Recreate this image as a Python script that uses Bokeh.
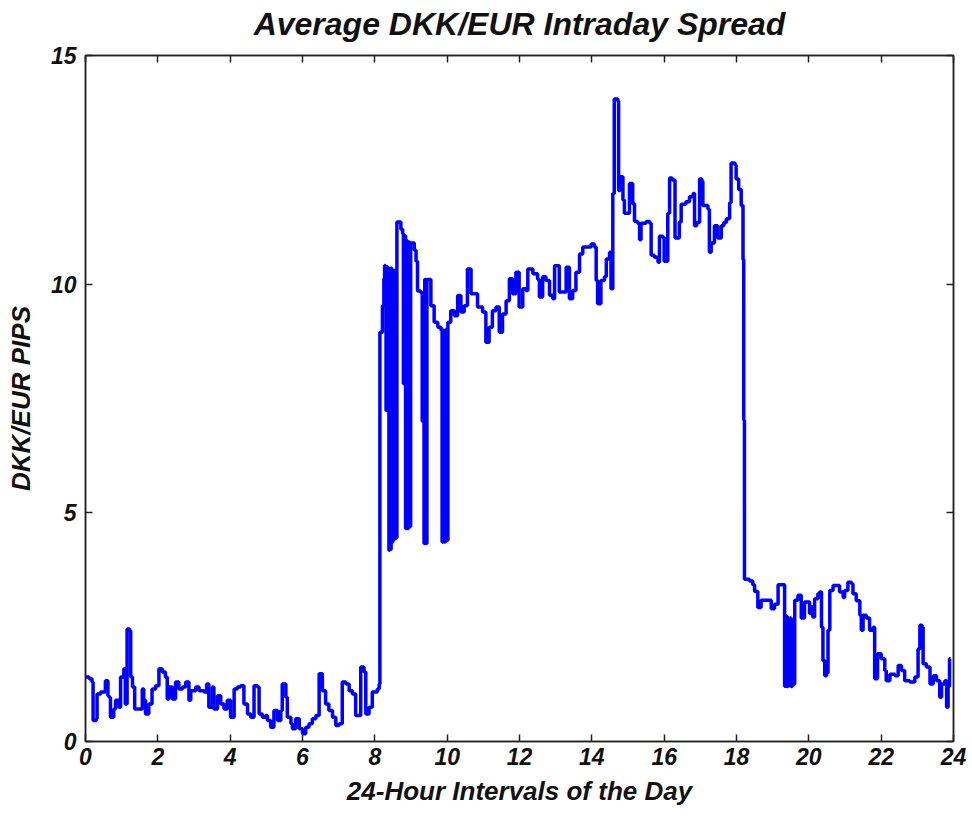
from bokeh.plotting import figure
from bokeh.models import Range1d, LinearAxis, FixedTicker
from bokeh.embed import file_html
from bokeh.resources import INLINE

title_text = "Average DKK/EUR Intraday Spread"
x_label = "24-Hour Intervals of the Day"
y_label = "DKK/EUR PIPS"
x_ticks = [0, 2, 4, 6, 8, 10, 12, 14, 16, 18, 20, 22, 24]
y_ticks = [0, 5, 10, 15]

hours = [
    0.0, 0.1, 0.18, 0.21, 0.3, 0.32, 0.42, 0.55, 0.62, 0.65, 0.69, 0.78, 0.83, 0.92, 0.97, 1.06, 1.1, 1.15, 1.22, 1.25,
    1.3, 1.36, 1.52, 1.57, 1.61, 1.66, 1.75, 1.84, 1.94, 2.03, 2.12, 2.21, 2.26, 2.31, 2.4, 2.49, 2.58, 2.68, 2.77, 2.86,
    2.91, 3.05, 3.14, 3.28, 3.35, 3.41, 3.51, 3.55, 3.65, 3.74, 3.83, 3.92, 4.01, 4.11, 4.2, 4.29, 4.38, 4.48, 4.57, 4.66,
    4.75, 4.8, 4.89, 4.98, 5.03, 5.12, 5.21, 5.31, 5.4, 5.44, 5.54, 5.58, 5.68, 5.72, 5.81, 5.91, 6.0, 6.09, 6.18, 6.27,
    6.37, 6.46, 6.55, 6.64, 6.73, 6.83, 6.92, 7.01, 7.1, 7.2, 7.29, 7.38, 7.47, 7.57, 7.61, 7.7, 7.75, 7.84, 7.93, 8.07,
    8.12, 8.14, 8.2, 8.21, 8.25, 8.27, 8.29, 8.31, 8.33, 8.35, 8.37, 8.39, 8.41, 8.43, 8.45, 8.47, 8.49, 8.51, 8.53, 8.55,
    8.57, 8.59, 8.61, 8.67, 8.72, 8.77, 8.79, 8.81, 8.85, 8.88, 8.9, 8.93, 8.96, 8.99, 9.09, 9.14, 9.18, 9.27, 9.31, 9.33,
    9.36, 9.38, 9.41, 9.44, 9.46, 9.55, 9.64, 9.74, 9.83, 9.86, 9.89, 9.92, 9.95, 9.97, 10.02, 10.1, 10.2, 10.29, 10.38, 10.47,
    10.56, 10.66, 10.75, 10.84, 10.98, 11.07, 11.16, 11.25, 11.35, 11.44, 11.53, 11.63, 11.72, 11.81, 11.9, 11.99, 12.09, 12.18, 12.23, 12.37,
    12.5, 12.55, 12.64, 12.73, 12.83, 12.92, 12.97, 13.06, 13.1, 13.2, 13.29, 13.38, 13.47, 13.56, 13.66, 13.75, 13.89, 13.98, 14.07, 14.12,
    14.16, 14.25, 14.35, 14.4, 14.49, 14.53, 14.58, 14.62, 14.72, 14.74, 14.78, 14.86, 14.9, 14.99, 15.04, 15.13, 15.18, 15.27, 15.32, 15.36,
    15.5, 15.6, 15.64, 15.73, 15.83, 15.87, 15.96, 16.0, 16.1, 16.15, 16.22, 16.3, 16.42, 16.47, 16.6, 16.7, 16.8, 16.84, 16.9, 16.98,
    17.04, 17.07, 17.21, 17.25, 17.3, 17.39, 17.48, 17.58, 17.65, 17.72, 17.81, 17.85, 17.96, 17.99, 18.06, 18.13, 18.18, 18.2, 18.22, 18.3,
    18.36, 18.45, 18.5, 18.59, 18.68, 18.87, 18.96, 19.05, 19.15, 19.29, 19.33, 19.36, 19.39, 19.42, 19.45, 19.48, 19.51, 19.54, 19.57, 19.61,
    19.7, 19.79, 19.88, 19.97, 20.02, 20.07, 20.11, 20.16, 20.25, 20.3, 20.35, 20.39, 20.44, 20.49, 20.53, 20.58, 20.67, 20.81, 20.85, 20.95,
    20.99, 21.08, 21.18, 21.22, 21.31, 21.41, 21.45, 21.5, 21.59, 21.68, 21.78, 21.82, 21.9, 22.0, 22.1, 22.14, 22.24, 22.38, 22.47, 22.56,
    22.65, 22.79, 22.93, 23.02, 23.07, 23.13, 23.16, 23.25, 23.35, 23.44, 23.53, 23.62, 23.67, 23.76, 23.81, 23.85, 23.89, 23.92,
]
pips = [
    1.41, 1.37, 1.30, 0.46, 0.50, 1.04, 1.08, 1.33, 1.00, 0.97, 0.53, 0.71, 0.90, 0.75, 1.41, 1.59, 0.82, 2.46, 2.42, 1.41,
    1.19, 0.71, 0.71, 1.15, 0.90, 0.60, 0.82, 1.15, 1.22, 1.59, 1.52, 1.41, 0.93, 1.19, 0.93, 1.30, 1.15, 1.19, 1.30, 0.90,
    1.11, 1.19, 1.11, 1.08, 1.26, 0.75, 1.19, 0.71, 1.00, 0.82, 0.71, 0.90, 0.53, 1.15, 1.19, 1.22, 0.82, 0.60, 0.53, 1.22,
    1.19, 0.60, 0.53, 0.57, 0.46, 0.31, 0.68, 0.46, 0.68, 1.26, 0.97, 0.53, 0.39, 0.28, 0.50, 0.28, 0.17, 0.31, 0.39, 0.50,
    0.57, 1.48, 1.11, 0.82, 0.68, 0.53, 0.35, 0.39, 1.30, 1.26, 1.11, 1.04, 0.57, 0.57, 1.63, 1.52, 0.60, 0.75, 1.08, 1.15,
    1.26, 8.95, 8.95, 9.53, 10.12, 10.41, 10.38, 7.24, 10.38, 8.00, 10.35, 4.18, 10.35, 4.20, 10.35, 4.35, 10.30, 4.40, 10.30, 4.45,
    10.30, 4.45, 11.36, 11.36, 11.20, 11.10, 7.82, 11.06, 4.66, 10.95, 4.66, 10.92, 4.70, 10.90, 10.74, 10.50, 9.85, 9.82, 7.00, 9.80,
    4.33, 10.10, 4.33, 10.10, 10.10, 9.53, 9.17, 9.06, 8.99, 4.36, 8.99, 4.36, 9.00, 4.40, 9.17, 9.42, 9.31, 9.75, 9.39, 9.53,
    10.33, 9.79, 9.79, 9.50, 9.39, 8.73, 9.06, 9.42, 9.50, 8.95, 9.35, 9.64, 10.12, 9.79, 10.26, 9.50, 9.90, 9.86, 10.33, 10.23,
    10.11, 9.72, 10.16, 10.08, 9.76, 9.68, 10.40, 10.40, 9.83, 9.83, 10.37, 9.68, 9.86, 10.26, 10.66, 10.81, 10.81, 10.88, 10.81, 10.08,
    9.57, 10.08, 10.16, 10.55, 10.70, 9.90, 11.98, 14.05, 14.00, 12.05, 12.35, 11.84, 11.55, 11.55, 12.20, 11.76, 11.37, 11.33, 10.97, 11.33,
    11.37, 11.33, 10.63, 10.59, 10.48, 11.05, 11.02, 10.50, 11.55, 12.32, 12.28, 11.01, 11.36, 11.75, 11.80, 11.91, 11.98, 11.28, 11.35, 12.30,
    12.25, 11.72, 11.64, 10.70, 10.90, 11.28, 11.01, 11.28, 11.35, 11.43, 11.78, 12.65, 12.60, 12.30, 12.07, 11.72, 10.54, 7.03, 3.55, 3.55,
    3.51, 3.43, 3.28, 2.93, 3.09, 3.09, 2.90, 3.00, 3.43, 3.43, 1.21, 2.75, 1.20, 2.70, 1.22, 2.70, 1.20, 2.65, 1.25, 3.09,
    3.20, 2.70, 3.05, 3.05, 2.80, 2.94, 2.72, 3.12, 3.23, 3.27, 2.50, 1.77, 1.44, 1.50, 2.43, 3.30, 3.41, 3.41, 3.27, 3.15,
    3.30, 3.48, 3.45, 3.23, 3.08, 2.76, 2.43, 2.76, 2.70, 2.43, 2.50, 1.37, 1.92, 1.81, 1.55, 1.33, 1.47, 1.44, 1.66, 1.55,
    1.33, 1.30, 1.41, 2.02, 2.54, 2.50, 1.70, 1.63, 1.26, 1.44, 1.33, 0.97, 1.26, 1.33, 0.75, 1.20, 1.81, 1.81,
]

FONT = "Liberation Sans"
AX = "#222222"
TXT = "#111111"

p = figure(
    width=972, height=816,
    x_range=Range1d(0, 24), y_range=Range1d(0, 15),
    output_backend="svg", toolbar_location=None,
    min_border_left=85, min_border_right=19, min_border_top=55, min_border_bottom=75,
    background_fill_color="white", border_fill_color="white",
)

p.xgrid.visible = False
p.ygrid.visible = False
p.outline_line_color = AX
p.outline_line_width = 1.5

p.step(hours, pips, mode="after", line_color="#0000FF", line_width=3.5)

for ax in p.xaxis:
    ax.ticker = FixedTicker(ticks=x_ticks)
    ax.axis_label = x_label
for ax in p.yaxis:
    ax.ticker = FixedTicker(ticks=y_ticks)
    ax.axis_label = y_label

for ax in list(p.xaxis) + list(p.yaxis):
    ax.major_tick_in = 7
    ax.major_tick_out = 0
    ax.minor_tick_line_color = None
    ax.axis_line_color = AX
    ax.axis_line_width = 1.5
    ax.major_tick_line_color = AX
    ax.major_tick_line_width = 1.5
    ax.major_label_text_font = FONT
    ax.major_label_text_font_size = "23px"
    ax.major_label_text_font_style = "bold italic"
    ax.major_label_text_color = TXT
    ax.axis_label_text_font = FONT
    ax.axis_label_text_font_size = "26px"
    ax.axis_label_text_font_style = "bold italic"
    ax.axis_label_text_color = TXT

p.xaxis.major_label_standoff = 6
p.xaxis.axis_label_standoff = 8
p.yaxis.major_label_standoff = 9
p.yaxis.axis_label_standoff = 12

# mirrored box axis on top; it also carries the chart title
top_ax = LinearAxis(ticker=FixedTicker(ticks=x_ticks), major_tick_in=7, major_tick_out=0,
                    major_label_text_color=None, major_label_text_font_size="1px",
                    minor_tick_line_color=None,
                    axis_line_color=AX, axis_line_width=1.5,
                    major_tick_line_color=AX, major_tick_line_width=1.5,
                    axis_label=title_text, axis_label_standoff=14,
                    axis_label_text_font=FONT, axis_label_text_font_size="32px",
                    axis_label_text_font_style="bold italic", axis_label_text_color=TXT)
right_ax = LinearAxis(ticker=FixedTicker(ticks=y_ticks), major_tick_in=7, major_tick_out=0,
                      major_label_text_color=None, major_label_text_font_size="1px",
                      minor_tick_line_color=None,
                      axis_line_color=AX, axis_line_width=1.5,
                      major_tick_line_color=AX, major_tick_line_width=1.5)
p.add_layout(top_ax, "above")
p.add_layout(right_ax, "right")

open("out.html", "w").write(file_html(p, INLINE))
